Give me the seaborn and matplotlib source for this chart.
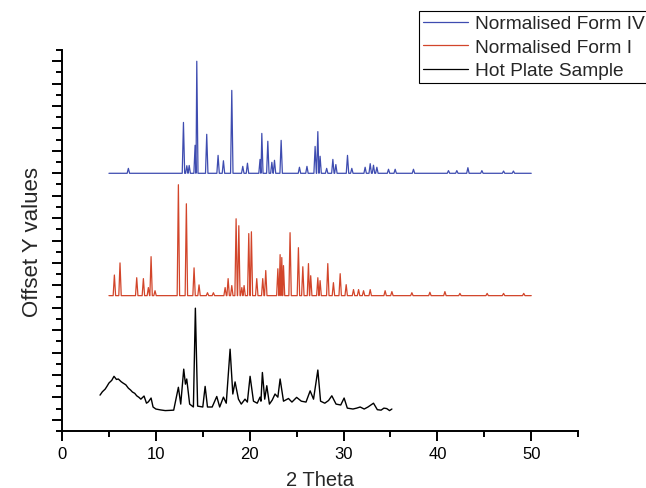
import numpy as np
import pandas as pd
import seaborn as sns
import matplotlib.pyplot as plt
from matplotlib.ticker import MultipleLocator, NullFormatter

# peak lists: 2 theta position, peak height (offset units)
form4_pos = [7.07, 12.94, 13.3, 13.55, 14.18, 14.36, 15.42, 16.63, 17.2, 18.09,
             19.26, 19.76, 21.1, 21.29, 21.93, 22.36, 22.64, 23.35, 25.3, 26.1,
             26.97, 27.26, 27.5, 28.2, 28.86, 29.18, 30.42, 30.88, 32.3, 32.84,
             33.19, 33.55, 34.79, 35.5, 37.45, 41.18, 42.07, 43.25, 44.74, 47.05, 48.1]
form4_hgt = [220, 2270, 340, 350, 1250, 5000, 1740, 800, 560, 3700,
             310, 450, 620, 1780, 1430, 490, 580, 1470, 270, 310,
             1200, 1860, 760, 220, 620, 390, 800, 220, 270, 430,
             360, 270, 180, 180, 180, 120, 120, 250, 120, 100, 100]
form4_base = 11000

form1_pos = [5.58, 6.18, 7.96, 8.67, 9.2, 9.49, 9.91, 12.4, 13.25, 14.07,
             14.6, 15.5, 16.13, 17.38, 17.7, 18.09, 18.55, 18.84, 19.16, 19.4,
             19.9, 20.18, 20.75, 21.39, 21.71, 23.0, 23.24, 23.42, 23.6, 24.3,
             25.19, 25.66, 26.26, 26.5, 27.26, 27.5, 28.32, 28.92, 29.64, 30.28,
             31.06, 31.6, 32.13, 32.84, 34.43, 35.15, 37.28, 39.2, 40.8, 42.4,
             45.3, 47.05, 49.2]
form1_hgt = [920, 1460, 800, 760, 360, 1740, 220, 4950, 4100, 1240,
             480, 130, 130, 360, 760, 450, 3430, 3120, 360, 450,
             2770, 2850, 760, 760, 1120, 1200, 1830, 1700, 1340, 2810,
             2140, 1290, 1430, 890, 800, 670, 1430, 580, 980, 490,
             270, 270, 220, 270, 220, 180, 130, 150, 180, 100,
             100, 100, 100]
form1_base = 5540

# hot plate sample traced directly
hot_x = [4.05, 4.3, 4.6, 4.8, 5.0, 5.3, 5.54, 5.8, 6.0, 6.3, 6.5, 6.8, 7.07, 7.3, 7.5,
         7.75, 7.96, 8.2, 8.4, 8.74, 9.0, 9.2, 9.49, 9.7,
         10.0, 10.5, 11.0, 11.5, 11.9, 12.4, 12.65, 12.97, 13.15, 13.29, 13.6, 14.0, 14.21, 14.45,
         15.0, 15.25, 15.5, 16.0, 16.49, 16.8, 17.2, 17.5, 17.91, 18.2, 18.44, 18.8,
         19.1, 19.5, 19.75, 20.04, 20.4, 20.8, 21.1, 21.2, 21.35, 21.6, 21.82, 22.1,
         22.4, 22.7, 23.0, 23.24, 23.6, 24.13, 24.5, 25.0, 25.5, 26.0, 26.44, 26.8,
         27.26, 27.55, 28.0, 28.4, 28.75, 29.2, 29.7, 30.06, 30.4, 31.0, 31.4, 31.77, 32.2, 32.6,
         33.19, 33.6, 34.0, 34.3, 34.6, 34.9, 35.15]
hot_y = [1100, 1250, 1370, 1500, 1640, 1760, 1940, 1800, 1820, 1700, 1640, 1560, 1410, 1330, 1240,
         1180, 1070, 1000, 920, 1060, 740, 800, 970, 570,
         480, 440, 410, 420, 430, 1450, 700, 2260, 1590, 1820, 700, 570, 4980, 610,
         570, 1490, 570, 570, 1040, 570, 1010, 740, 3150, 1150, 1690, 920,
         700, 920, 790, 1940, 830, 740, 1010, 830, 2110, 920, 1520, 700,
         880, 1150, 1010, 1820, 830, 950, 790, 1000, 830, 790, 1290, 920,
         2220, 830, 740, 860, 1070, 700, 660, 970, 520, 480, 520, 570, 480, 570,
         740, 450, 430, 520, 500, 410, 480]


def peak_trace(pos, hgt, base, start=5.0, end=50.0):
    xs, ys = [start], [base]
    for i, (p, h) in enumerate(zip(pos, hgt)):
        gap_l = p - pos[i - 1] if i > 0 else 1.0
        gap_r = pos[i + 1] - p if i < len(pos) - 1 else 1.0
        w_l = min(0.13, gap_l * 0.45)
        w_r = min(0.13, gap_r * 0.45)
        xs += [p - w_l, p, p + w_r]
        ys += [base, base + h, base]
    xs.append(end)
    ys.append(base)
    return pd.DataFrame({"x": xs, "y": ys})


df4 = peak_trace(form4_pos, form4_hgt, form4_base)
df1 = peak_trace(form1_pos, form1_hgt, form1_base)
dfh = pd.DataFrame({"x": hot_x, "y": hot_y})

sns.set_style("ticks")
plt.rcParams['font.family'] = ['Liberation Sans', 'DejaVu Sans']

fig = plt.figure(figsize=(6.46, 4.89), dpi=100)
ax = fig.add_axes([0.096, 0.1166, 0.799, 0.779])

sns.lineplot(data=df4, x="x", y="y", ax=ax, color="#3e4cb0", lw=0.9,
             estimator=None, sort=False, label="Normalised Form IV")
sns.lineplot(data=df1, x="x", y="y", ax=ax, color="#d2452a", lw=0.9,
             estimator=None, sort=False, label="Normalised Form I")
sns.lineplot(data=dfh, x="x", y="y", ax=ax, color="black", lw=1.0,
             estimator=None, sort=False, label="Hot Plate Sample")

ax.set_xlim(0, 55)
ax.set_ylim(-500, 16500)
ax.xaxis.set_major_locator(MultipleLocator(10))
ax.xaxis.set_minor_locator(MultipleLocator(5))
ax.yaxis.set_major_locator(MultipleLocator(1000))
ax.yaxis.set_minor_locator(MultipleLocator(500))
ax.yaxis.set_major_formatter(NullFormatter())
ax.tick_params(axis="both", which="major", direction="out", length=7, width=1.4,
               color="black", labelsize=12, labelcolor="black")
ax.tick_params(axis="both", which="minor", direction="out", length=4, width=1.4,
               color="black")
sns.despine(ax=ax)
for s in ["left", "bottom"]:
    ax.spines[s].set_linewidth(1.4)
    ax.spines[s].set_color("black")

ax.set_xlabel("2 Theta", fontsize=14.5, labelpad=7)
ax.set_ylabel("Offset Y values", fontsize=16, labelpad=3)

leg = ax.legend(loc="upper left", bbox_to_anchor=(419 / 646, 1 - 12 / 489),
                bbox_transform=fig.transFigure, fontsize=13.8, frameon=True,
                fancybox=False, edgecolor="black", framealpha=1,
                handlelength=2.35, handletextpad=0.38, labelspacing=0.32,
                borderpad=0.2, borderaxespad=0)
leg.get_frame().set_linewidth(0.8)
for line in leg.get_lines():
    line.set_linewidth(0.9)

fig.savefig("out.png", dpi=100)
